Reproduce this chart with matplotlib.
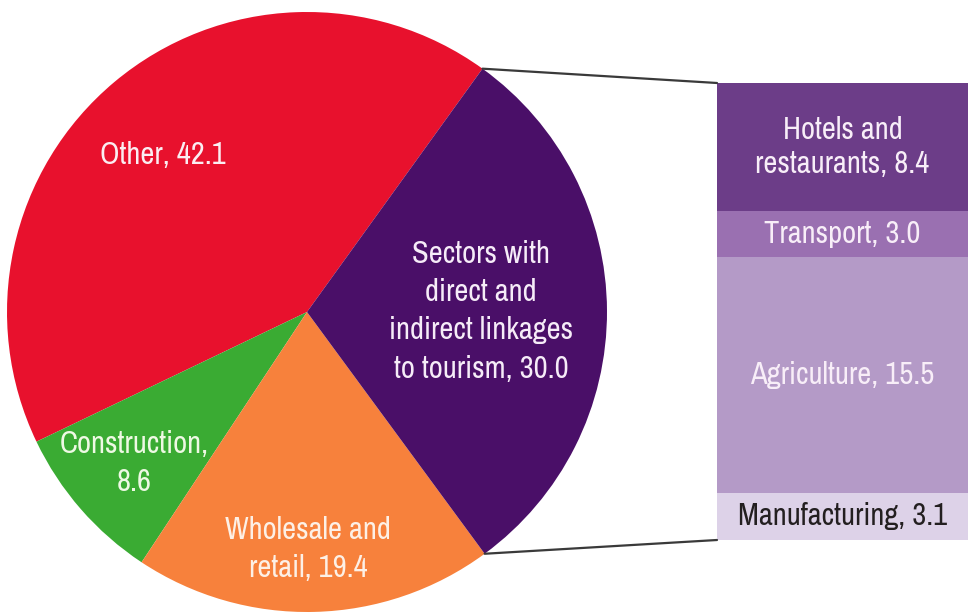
import matplotlib
matplotlib.use("Agg")
import matplotlib.pyplot as plt
from matplotlib import font_manager
from matplotlib.patches import ConnectionPatch
import numpy as np

# shares of GDP (percent)
pie_labels = ["Other", "Construction", "Wholesale and\nretail",
              "Sectors with\ndirect and\nindirect linkages\nto tourism"]
pie_values = [42.1, 8.6, 19.4, 30.0]
pie_colors = ["#e8112d", "#3aab33", "#f7813c", "#4a0f68"]
pie_text_colors = ["#fbeef2", "#eef9e4", "#fdf0e6", "#f6ecf8"]
pie_label_dist = [0.71, 0.765, 0.79, 0.58]
pie_label_turn = [2.5, 0.0, -1.2, 0.0]   # degrees, nudges label off mid-angle

# breakdown of the tourism-linked slice
bar_labels = ["Hotels and\nrestaurants", "Transport", "Agriculture", "Manufacturing"]
bar_values = [8.4, 3.0, 15.5, 3.1]
bar_colors = ["#6c3d88", "#9a70b1", "#b49ac7", "#ddd2e8"]
bar_text_colors = ["#f8eef8", "#f8eef8", "#f8eef8", "#231f20"]


def pick_font():
    # prefer a narrow face, otherwise fall back to Roboto
    names = sorted({f.name for f in font_manager.fontManager.ttflist})
    for n in names:
        if "Narrow" in n or "Condensed" in n:
            return n, True
    return "Roboto", False


FACE, NARROW = pick_font()
FONT = [FACE, "DejaVu Sans"]
FS = 22 if NARROW else 18.5
W, H = 968, 614

fig = plt.figure(figsize=(W / 100, H / 100), dpi=100)
fig.patch.set_facecolor("white")

# pie on the left
ax = fig.add_axes([7 / W, 2 / H, 600 / W, 600 / H])
wedges, _ = ax.pie(pie_values, colors=pie_colors, startangle=54.2,
                   counterclock=True, radius=1.0,
                   wedgeprops=dict(linewidth=0))
ax.set_xlim(-1, 1)
ax.set_ylim(-1, 1)
ax.set_aspect("equal")
ax.axis("off")

for w, lab, val, dist, turn, tc in zip(wedges, pie_labels, pie_values,
                                       pie_label_dist, pie_label_turn,
                                       pie_text_colors):
    mid = np.deg2rad((w.theta1 + w.theta2) / 2 + turn)
    text = f"{lab}, {val:.1f}"
    if lab == "Construction":
        text = f"{lab},\n{val:.1f}"
    ax.text(dist * np.cos(mid), dist * np.sin(mid), text,
            ha="center", va="center", color=tc, fontsize=FS,
            family=FONT, linespacing=1.45)

# stacked bar on the right
bx = fig.add_axes([717 / W, (H - 540) / H, (W - 717) / W, 457 / H])
bottoms = np.concatenate([[0], np.cumsum(bar_values)[:-1]])
bx.bar(0, bar_values, bottom=bottoms, width=1.0, color=bar_colors,
       linewidth=0)
bx.set_xlim(-0.5, 0.5)
bx.set_ylim(sum(bar_values), 0)
bx.axis("off")
for lab, val, b, tc in zip(bar_labels, bar_values, bottoms, bar_text_colors):
    bx.text(0, b + val / 2, f"{lab}, {val:.1f}", ha="center", va="center",
            color=tc, fontsize=FS, family=FONT, linespacing=1.3)

# connector lines from the tourism slice to the bar
tour = wedges[3]
for ang, yb in [(tour.theta2, 0), (tour.theta1, sum(bar_values))]:
    a = np.deg2rad(ang)
    con = ConnectionPatch(xyA=(np.cos(a), np.sin(a)), coordsA=ax.transData,
                          xyB=(-0.5, yb), coordsB=bx.transData,
                          color="#3a3a3a", linewidth=1.6)
    fig.add_artist(con)

fig.savefig("out.png", dpi=100, facecolor="white")
